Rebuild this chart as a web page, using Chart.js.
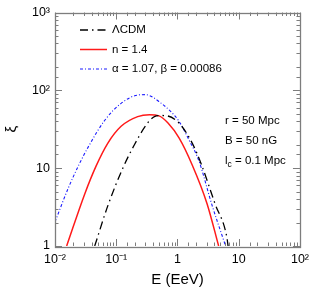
<!DOCTYPE html>
<html>
<head>
<meta charset="utf-8">
<script src="https://cdn.jsdelivr.net/npm/chart.js@4.4.1/dist/chart.umd.min.js"></script>
<style>
  html, body { margin:0; padding:0; background:#fff; }
  #wrap { width:315px; height:301px; }
</style>
</head>
<body>
<div id="wrap"><canvas id="c"></canvas></div>
<script>
// ── style constants ──────────────────────────────────────────
const FONT  = "'Liberation Sans', Arial, Helvetica, sans-serif";
const FRAME = "#7d7d7d";

// ── data ─────────────────────────────────────────────────────
const eLcdm  = [0.0445, 0.073, 0.128, 0.198, 0.305, 0.42, 0.55, 0.68, 1.06, 1.74, 2.45, 4.1, 6.4, 6.7];
const xiLcdm = [1, 3.3, 10, 20, 35.5, 46, 47.5, 47, 38, 21, 11.2, 3.5, 1.3, 1];

const eN14   = [0.0155, 0.0306, 0.047, 0.073, 0.12, 0.224, 0.35, 0.5, 0.7, 1.06, 1.74, 3.04, 4.7];
const xiN14  = [1, 4.67, 10.7, 21, 34.5, 46, 48.5, 47, 38, 24.5, 11, 3.5, 1];

const eAB    = [0.01, 0.0164, 0.0238, 0.0346, 0.0646, 0.12, 0.224, 0.3, 0.4, 0.5, 0.73, 1.06, 1.53, 2.24, 3.6, 6.1];
const xiAB   = [2.04, 5.5, 10.5, 18.5, 41, 68, 87, 88, 81, 71.6, 56, 40, 23.3, 12.4, 3.5, 1];

const seriesLabels = ["\u039BCDM", "n = 1.4", "\u03B1 = 1.07, \u03B2 = 0.00086"];

const xTickVals   = [0.01, 0.1, 1, 10, 100];
const xTickLabels = ["10\u207B\u00B2", "10\u207B\u00B9", "1", "10", "10\u00B2"];
const yTickVals   = [1, 10, 100, 1000];
const yTickLabels = ["1", "10", "10\u00B2", "10\u00B3"];

// notes: [main, subscript, rest]
const notes = [["r = 50 Mpc", "", ""], ["B = 50 nG", "", ""], ["l", "c", " = 0.1 Mpc"]];

const pts = (xs, ys) => xs.map((x, i) => ({ x, y: ys[i] }));
const pickLabel = (vals, labels) => v => {
  const i = vals.findIndex(t => Math.abs(t / v - 1) < 1e-6);
  return i < 0 ? "" : labels[i];
};
const isDecade = v => Math.abs(Math.log10(v) - Math.round(Math.log10(v))) < 1e-6;

// ── inward ticks on all four sides + frame ──────────────────
const frameTicks = {
  id: "frameTicks",
  afterDraw(chart) {
    const { ctx, chartArea: a, scales: { x, y } } = chart;
    ctx.save();
    ctx.strokeStyle = FRAME; ctx.lineWidth = 1;
    const seg = (x1, y1, x2, y2) => { ctx.beginPath(); ctx.moveTo(x1, y1); ctx.lineTo(x2, y2); ctx.stroke(); };
    x.ticks.forEach(t => {
      const p = Math.round(x.getPixelForValue(t.value)) + 0.5;
      const l = isDecade(t.value) ? 7 : 3.5;
      seg(p, a.bottom, p, a.bottom - l); seg(p, a.top, p, a.top + l);
    });
    y.ticks.forEach(t => {
      const p = Math.round(y.getPixelForValue(t.value)) + 0.5;
      const l = isDecade(t.value) ? 7 : 3.5;
      seg(a.left, p, a.left + l, p); seg(a.right, p, a.right - l, p);
    });
    ctx.lineWidth = 1.3;
    ctx.strokeRect(Math.round(a.left) + 0.5, Math.round(a.top) + 0.5,
                   Math.round(a.right - a.left), Math.round(a.bottom - a.top));
    ctx.restore();
  }
};

// ── legend + parameter notes inside the plot ────────────────
const insideText = {
  id: "insideText",
  afterDraw(chart) {
    const { ctx } = chart;
    ctx.save();
    ctx.font = "11.5px " + FONT;
    ctx.fillStyle = "#000";
    ctx.textBaseline = "middle";
    const rowY = [30, 49.5, 69];
    chart.data.datasets.forEach((ds, i) => {
      ctx.strokeStyle = ds.borderColor; ctx.lineWidth = ds.borderWidth;
      ctx.setLineDash(ds.borderDash || []);
      ctx.beginPath(); ctx.moveTo(80, rowY[i]); ctx.lineTo(107, rowY[i]); ctx.stroke();
      ctx.setLineDash([]);
      ctx.fillText(ds.label, 112, rowY[i]);
    });
    const noteY = [121, 141, 161];
    notes.forEach(([main, sub, rest], i) => {
      let xx = 225;
      ctx.font = "11.5px " + FONT;
      ctx.fillText(main, xx, noteY[i]); xx += ctx.measureText(main).width;
      if (sub) {
        ctx.font = "8.5px " + FONT;
        ctx.fillText(sub, xx, noteY[i] + 4); xx += ctx.measureText(sub).width;
        ctx.font = "11.5px " + FONT;
        ctx.fillText(rest, xx, noteY[i]);
      }
    });
    ctx.restore();
  }
};

new Chart(document.getElementById("c"), {
  type: "scatter",
  data: {
    datasets: [
      { label: seriesLabels[0], data: pts(eLcdm, xiLcdm), borderColor: "#000000",
        borderWidth: 1.3, borderDash: [8, 4, 1.5, 4] },
      { label: seriesLabels[1], data: pts(eN14, xiN14), borderColor: "#ff1a1a",
        borderWidth: 1.5, borderDash: [] },
      { label: seriesLabels[2], data: pts(eAB, xiAB), borderColor: "#1a1aff",
        borderWidth: 1.1, borderDash: [3, 2, 1, 2] },
    ].map(ds => ({ ...ds, showLine: true, pointRadius: 0, cubicInterpolationMode: "monotone", fill: false })),
  },
  options: {
    responsive: true, maintainAspectRatio: false, animation: false,
    layout: { padding: { top: 10, right: 13, left: 0, bottom: 0 } },
    plugins: { legend: { display: false }, tooltip: { enabled: false } },
    scales: {
      x: {
        type: "logarithmic", min: 0.01, max: 100,
        afterFit: s => { s.height = 55; },
        grid: { display: false, drawTicks: false }, border: { display: false },
        ticks: { autoSkip: false, maxRotation: 0, padding: 6, color: "#000",
                 font: { family: FONT, size: 12.5 }, callback: pickLabel(xTickVals, xTickLabels) },
        title: { display: true, text: "E (EeV)", color: "#000",
                 font: { family: FONT, size: 15 }, padding: { top: 0, bottom: 12 } },
      },
      y: {
        type: "logarithmic", min: 1, max: 1000,
        afterFit: s => { s.width = 55; },
        grid: { display: false, drawTicks: false }, border: { display: false },
        ticks: { autoSkip: false, padding: 5, color: "#000",
                 font: { family: FONT, size: 12.5 }, callback: pickLabel(yTickVals, yTickLabels) },
        title: { display: true, text: "\u03BE", color: "#000",
                 font: { family: FONT, size: 15 }, padding: { top: 3, bottom: 0 } },
      },
    },
  },
  plugins: [frameTicks, insideText],
});
</script>
</body>
</html>
